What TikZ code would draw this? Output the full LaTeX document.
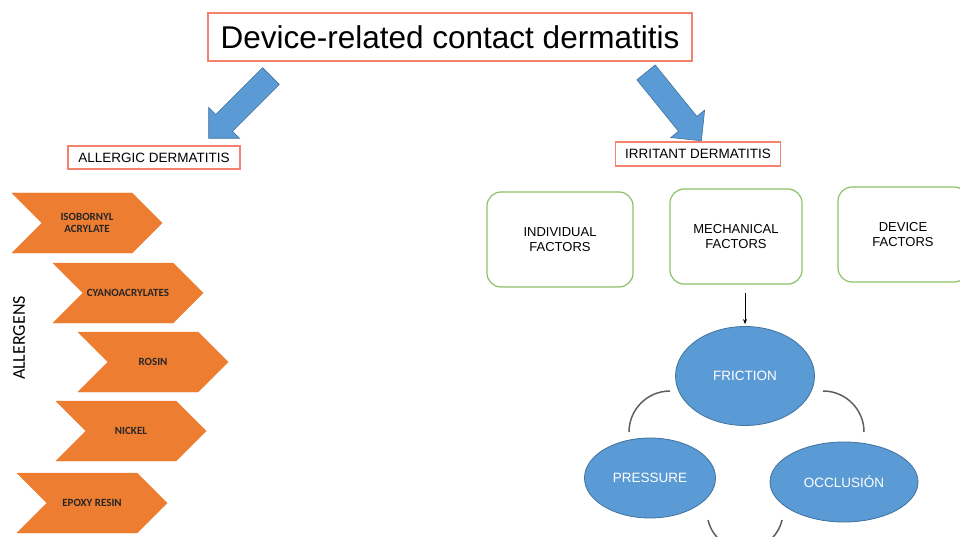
\documentclass[tikz,border=0pt]{standalone}
\usepackage{fontspec}
\setmainfont{Liberation Sans}
\newfontfamily\calibri{Carlito}
\usetikzlibrary{shapes.geometric,shapes.symbols,shapes.arrows,arrows.meta}
\definecolor{salmon}{HTML}{F4826D}
\definecolor{orng}{HTML}{ED7D31}
\definecolor{skyblue}{HTML}{5B9BD5}
\definecolor{darkblue}{HTML}{41719C}
\definecolor{leaf}{HTML}{8CC168}
\definecolor{arcgray}{HTML}{5F5F5F}
\tikzset{
  redbox/.style={draw=salmon, line width=1.2pt, fill=white, inner sep=0pt},
  allergen/.style={signal, signal from=west, signal to=east, fill=orng, draw=orng,
    minimum width=150pt, minimum height=60pt, inner sep=0pt,
    font=\calibri\bfseries\fontsize{11}{12.5}\selectfont, text=black!85, align=center},
  factor/.style={draw=leaf, line width=1.2pt, rounded corners=14pt, minimum height=95pt,
    font=\fontsize{13}{15.5}\selectfont, align=center},
  mech/.style={ellipse, fill=skyblue, draw=darkblue, line width=0.8pt, text=white,
    font=\fontsize{13.5}{15}\selectfont},
  bigarrow/.style={single arrow, fill=skyblue, draw=darkblue, line width=0.6pt,
    minimum height=88pt, inner sep=11.5pt, single arrow head extend=10pt},
  cycle/.style={draw=arcgray, line width=1.5pt}
}
\begin{document}
\begin{tikzpicture}[x=1pt,y=1pt]
\useasboundingbox (0,0) rectangle (960,-537);
% top
\node[redbox, minimum width=484pt, minimum height=48pt, font=\fontsize{31.5}{36}\selectfont] (title) at (450,-37) {Device-related contact dermatitis};
\node[bigarrow, rotate=225] (arrL) at (244,-103) {};
\node[bigarrow, rotate=-51] (arrR) at (670,-102) {};
\node[redbox, minimum width=172pt, minimum height=23pt, font=\fontsize{13.5}{15}\selectfont] (allergic) at (154,-157.5) {ALLERGIC DERMATITIS};
\node[redbox, minimum width=165pt, minimum height=24pt, font=\fontsize{13.5}{15}\selectfont] (irritant) at (698,-154) {IRRITANT DERMATITIS};
% allergens
\node[rotate=90, font=\calibri\fontsize{18}{20}\selectfont] (allergens) at (19,-338) {ALLERGENS};
\node[allergen] (isob) at (87,-223) {ISOBORNYL\\ACRYLATE};
\node[allergen] (cyano) at (128,-293) {CYANOACRYLATES};
\node[allergen] (rosin) at (153,-362) {ROSIN};
\node[allergen] (nickel) at (131,-431) {NICKEL};
\node[allergen] (epoxy) at (92,-503) {EPOXY RESIN};
% irritant factors
\node[factor, minimum width=146pt] (indiv) at (560,-239.5) {INDIVIDUAL\\FACTORS};
\node[factor, minimum width=132pt] (mechf) at (736,-236.5) {MECHANICAL\\FACTORS};
\node[factor, minimum width=130pt] (devf) at (903,-234.5) {DEVICE\\FACTORS};
% mechanical cycle
\node[mech, minimum width=139pt, minimum height=99pt] (fric) at (745,-376) {FRICTION};
\node[mech, minimum width=131pt, minimum height=80pt] (press) at (650,-478) {PRESSURE};
\node[mech, minimum width=148pt, minimum height=80pt] (occl) at (844,-482) {OCCLUSIÓN};
\draw[-{Stealth[length=5pt,width=4pt]}, line width=0.8pt] ([yshift=-8pt]mechf.south -| fric.north) -- ([yshift=2pt]fric.north);
\draw[cycle] (670,-391) arc (90:180:41);
\draw[cycle] (823,-391) arc (90:0:41);
\draw[cycle] (708,-520) arc (193:347:38);
\end{tikzpicture}
\end{document}
